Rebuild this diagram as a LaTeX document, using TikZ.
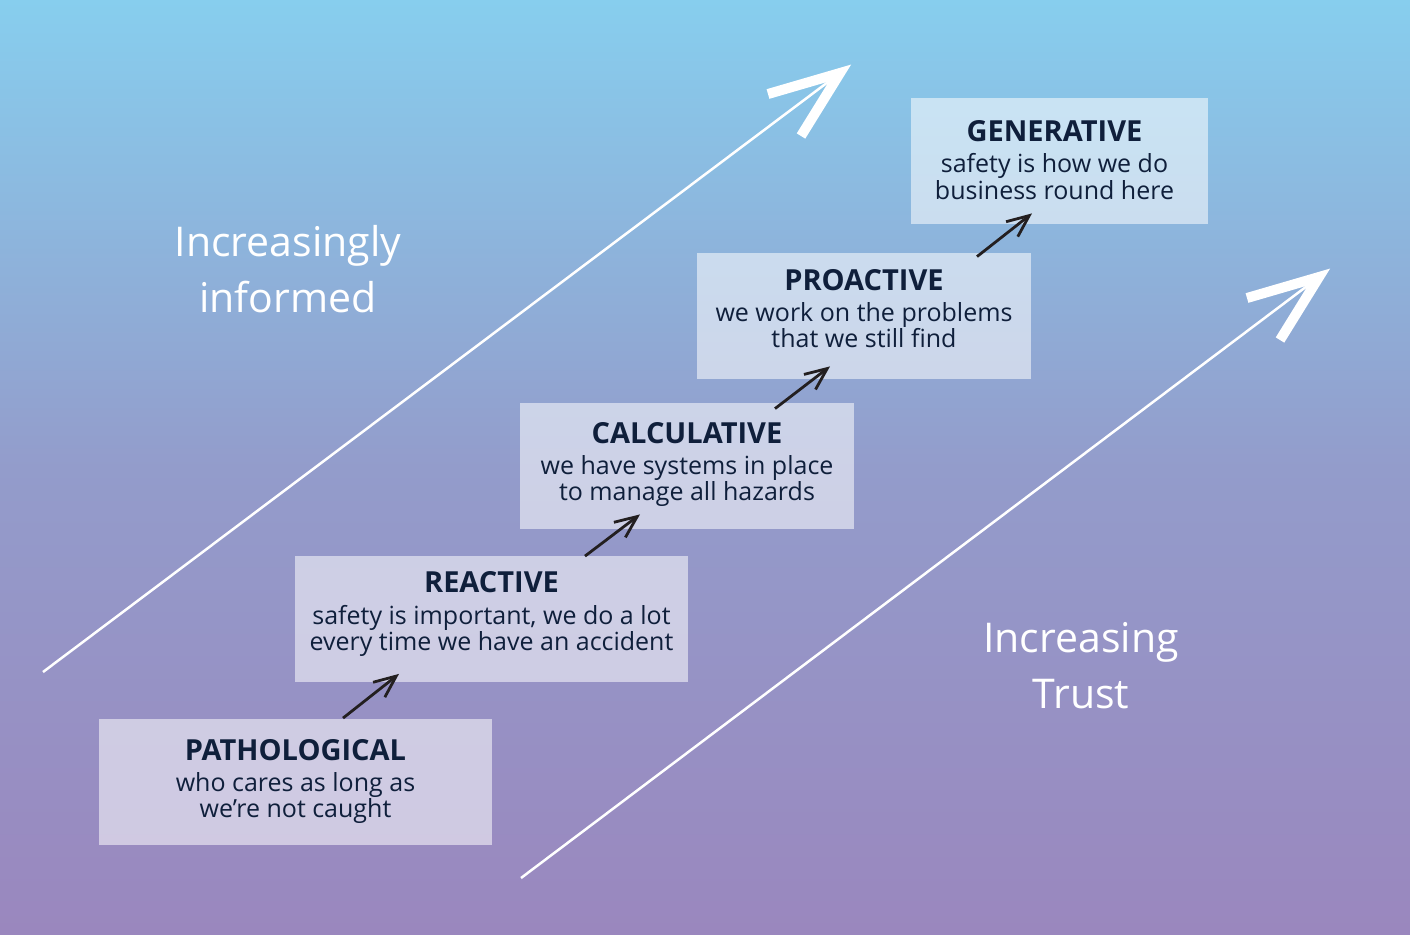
\documentclass[tikz,border=0pt]{standalone}
\usepackage{fontspec}
\setmainfont{Open Sans}
\usetikzlibrary{arrows.meta,calc}
\definecolor{bgtop}{HTML}{87CEEE}
\definecolor{bgmid}{HTML}{939CCB}
\definecolor{bgbot}{HTML}{9A87BE}
\definecolor{ink}{HTML}{0F1F3B}
\definecolor{arrink}{HTML}{231F20}
\begin{document}
\begin{tikzpicture}[x=0.5pt,y=-0.5pt,
  box/.style={fill=white, fill opacity=0.54, draw=none, inner sep=0pt, minimum height=63pt},
  ttl/.style={anchor=base, text=ink, inner sep=0pt, font=\fontsize{14.5}{16}\selectfont\bfseries},
  dsc/.style={anchor=base, text=ink, inner sep=0pt, font=\fontsize{12.5}{14}\selectfont},
  big/.style={text=white, align=center, inner sep=0pt, font=\fontsize{20.5}{28}\selectfont},
  stepline/.style={draw=arrink, line width=1.4pt, -{Straight Barb[length=11pt,width=9.5pt]}},
  bigline/.style={draw=white, line width=1.25pt},
  bighead/.style={draw=white, line width=5pt, line join=miter, line cap=butt}]
\useasboundingbox (0,0) rectangle (1410,934);
\shade[top color=bgtop, bottom color=bgmid] (0,0) rectangle (1410,468);
\shade[top color=bgmid, bottom color=bgbot] (0,467) rectangle (1410,934);

% big arrows
\coordinate (s1) at (43,672);  \coordinate (v1) at (840,73);
\coordinate (a1) at (768,94);  \coordinate (b1) at (801,136);
\coordinate (s2) at (521,878); \coordinate (v2) at (1319,277);
\coordinate (a2) at (1247,298); \coordinate (b2) at (1280,340);
\draw[bigline] (s1) -- (v1);
\draw[bighead] (a1) -- (v1) -- (b1);
\draw[bigline] (s2) -- (v2);
\draw[bighead] (a2) -- (v2) -- (b2);

\node[big] (inf) at (288,269) {Increasingly\\informed};
\node[big] (trust) at (1081,666) {Increasing\\Trust};

% boxes
\node[box, minimum width=148.5pt] (gen) at (1059.5,161) {};
\node[box, minimum width=167pt]   (pro) at (864,316) {};
\node[box, minimum width=167pt]   (cal) at (687,466) {};
\node[box, minimum width=196.5pt] (rea) at (491.5,618.5) {};
\node[box, minimum width=196.5pt] (pat) at (295.5,781.5) {};

\node[ttl] (genT) at ($(gen.north)+(-5,44)$) {GENERATIVE};
\node[dsc] (genA) at ($(gen.north)+(-5,75)$) {safety is how we do};
\node[dsc] (genB) at ($(gen.north)+(-5,102)$) {business round here};

\node[ttl] (proT) at ($(pro.north)+(0,38)$) {PROACTIVE};
\node[dsc] (proA) at ($(pro.north)+(0,69)$) {we work on the problems};
\node[dsc] (proB) at ($(pro.north)+(0,95)$) {that we still find};

\node[ttl] (calT) at ($(cal.north)+(0,41)$) {CALCULATIVE};
\node[dsc] (calA) at ($(cal.north)+(0,72)$) {we have systems in place};
\node[dsc] (calB) at ($(cal.north)+(0,98)$) {to manage all hazards};

\node[ttl] (reaT) at ($(rea.north)+(0,37)$) {REACTIVE};
\node[dsc] (reaA) at ($(rea.north)+(0,69)$) {safety is important, we do a lot};
\node[dsc] (reaB) at ($(rea.north)+(0,95)$) {every time we have an accident};

\node[ttl] (patT) at ($(pat.north)+(0,42)$) {PATHOLOGICAL};
\node[dsc] (patA) at ($(pat.north)+(0,73)$) {who cares as long as};
\node[dsc] (patB) at ($(pat.north)+(0,99)$) {we’re not caught};

% step arrows
\draw[stepline] ($(pat.north)+(47.5,0)$) -- ($(rea.south)+(-92.5,-8)$);
\draw[stepline] ($(rea.north)+(93.5,1)$) -- ($(cal.south)+(-47,-15)$);
\draw[stepline] ($(cal.north)+(88,6)$) -- ($(pro.south)+(-34,-13)$);
\draw[stepline] ($(pro.north)+(113,4)$) -- ($(gen.south)+(-27.5,-11)$);
\end{tikzpicture}
\end{document}
